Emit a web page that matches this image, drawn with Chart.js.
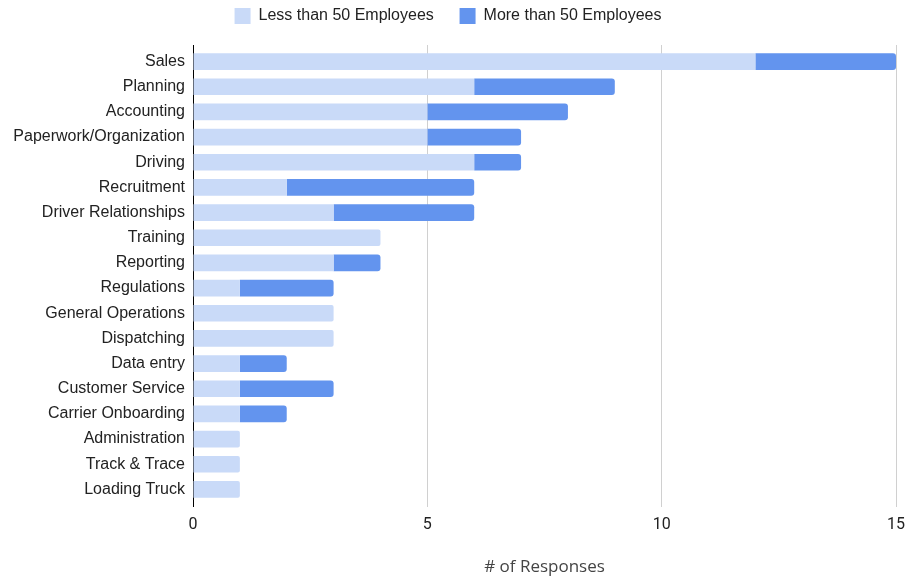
<!DOCTYPE html>
<html>
<head>
<meta charset="utf-8">
<script src="https://cdn.jsdelivr.net/npm/chart.js@4"></script>
<style>
    html, body { margin: 0; padding: 0; background: #fff; }
    #wrap { width: 909px; height: 576px; }
</style>
</head>
<body>
<div id="wrap"><canvas id="barChart"></canvas></div>
<script>
// Dữ liệu
var categories = ["Sales", "Planning", "Accounting", "Paperwork/Organization", "Driving", "Recruitment",
    "Driver Relationships", "Training", "Reporting", "Regulations", "General Operations", "Dispatching",
    "Data entry", "Customer Service", "Carrier Onboarding", "Administration", "Track & Trace", "Loading Truck"];
var lessThan50 = [12, 6, 5, 5, 6, 2, 3, 4, 3, 1, 3, 3, 1, 1, 1, 1, 1, 1];
var moreThan50 = [3, 3, 3, 2, 1, 4, 3, 0, 1, 2, 0, 0, 1, 2, 1, 0, 0, 0];
var seriesNames = ["Less than 50 Employees", "More than 50 Employees"];
var xTicks = [0, 5, 10, 15];
var axisTitle = "# of Responses";

var labelFont = { family: "'Liberation Sans', Arial, sans-serif", size: 16 };
var gridColor = function (ctx) { return ctx.tick && ctx.tick.value === 0 ? '#000' : '#d0d0d0'; };

var chart = new Chart(document.getElementById("barChart"), {
    type: 'bar',
    data: {
        labels: categories,
        datasets: [{
            label: seriesNames[0],
            data: lessThan50,
            backgroundColor: "#c9daf8",
            borderRadius: function (ctx) { return moreThan50[ctx.dataIndex] ? 0 : 2; },
            borderSkipped: 'start'
        }, {
            label: seriesNames[1],
            data: moreThan50,
            backgroundColor: "#6394ee",
            borderRadius: 3,
            borderSkipped: 'start'
        }]
    },
    options: {
        indexAxis: 'y',
        responsive: true,
        maintainAspectRatio: false,
        animation: false,
        layout: { padding: { left: 0, right: 13, top: 0, bottom: 0 } },
        datasets: { bar: { categoryPercentage: 1, barPercentage: 0.66 } },
        plugins: {
            tooltip: { enabled: false },
            legend: {
                position: 'top',
                labels: {
                    font: labelFont,
                    color: '#222',
                    boxWidth: 16,
                    boxHeight: 16,
                    padding: 8,
                    // thêm khoảng trống giữa hai mục chú thích
                    generateLabels: function (c) {
                        var items = Chart.defaults.plugins.legend.labels.generateLabels(c);
                        items[0].text = items[0].text + '    ';
                        return items;
                    }
                }
            }
        },
        scales: {
            x: {
                stacked: true,
                min: 0,
                max: 15,
                afterBuildTicks: function (scale) { scale.ticks = xTicks.map(function (v) { return { value: v }; }); },
                grid: { color: gridColor, tickColor: gridColor, tickLength: 5, drawTicks: true },
                border: { display: false },
                ticks: { padding: 8, color: '#222', font: { family: "Roboto, sans-serif", size: 16 } },
                title: {
                    display: true,
                    text: axisTitle,
                    color: '#444',
                    font: { family: "'Open Sans', sans-serif", size: 17, lineHeight: 1 },
                    padding: { top: 0, bottom: 0 }
                },
                afterFit: function (scale) {
                    scale.height = 74;
                    scale.paddingLeft = 0;
                    scale.paddingRight = 0;
                }
            },
            xTop: {
                position: 'top',
                type: 'linear',
                min: 0,
                max: 15,
                afterBuildTicks: function (scale) { scale.ticks = xTicks.map(function (v) { return { value: v }; }); },
                grid: { drawOnChartArea: false, tickColor: gridColor, tickLength: 4 },
                border: { display: false },
                ticks: { display: false },
                afterFit: function (scale) {
                    scale.height = 15;
                    scale.paddingLeft = 0;
                    scale.paddingRight = 0;
                }
            },
            y: {
                stacked: true,
                grid: { display: false, drawTicks: false },
                border: { display: true, color: '#000', width: 1 },
                ticks: { padding: 8, color: '#222', font: labelFont },
                afterFit: function (scale) { scale.width = 193; }
            }
        }
    }
});
</script>
</body>
</html>
